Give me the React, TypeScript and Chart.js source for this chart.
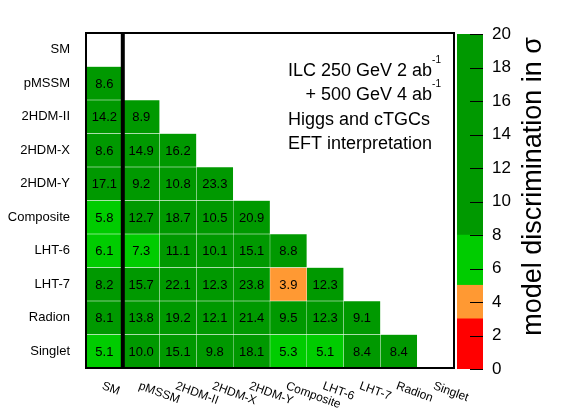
import React, { useEffect, useRef } from "react";
import { Chart, registerables } from "chart.js";

Chart.register(...registerables);

const models = [
  "SM",
  "pMSSM",
  "2HDM-II",
  "2HDM-X",
  "2HDM-Y",
  "Composite",
  "LHT-6",
  "LHT-7",
  "Radion",
  "Singlet",
];

// discrimination in sigma, row model vs. column model (lower triangle)
const rowSM: number[] = [];
const rowPMSSM = [8.6];
const row2HDMII = [14.2, 8.9];
const row2HDMX = [8.6, 14.9, 16.2];
const row2HDMY = [17.1, 9.2, 10.8, 23.3];
const rowComposite = [5.8, 12.7, 18.7, 10.5, 20.9];
const rowLHT6 = [6.1, 7.3, 11.1, 10.1, 15.1, 8.8];
const rowLHT7 = [8.2, 15.7, 22.1, 12.3, 23.8, 3.9, 12.3];
const rowRadion = [8.1, 13.8, 19.2, 12.1, 21.4, 9.5, 12.3, 9.1];
const rowSinglet = [5.1, 10.0, 15.1, 9.8, 18.1, 5.3, 5.1, 8.4, 8.4];

const rows = [
  rowSM,
  rowPMSSM,
  row2HDMII,
  row2HDMX,
  row2HDMY,
  rowComposite,
  rowLHT6,
  rowLHT7,
  rowRadion,
  rowSinglet,
];

// colour palette bands
const bandEdges = [0, 3, 5, 8, 20];
const bandColors = ["#ff0000", "#ff9933", "#00cc00", "#009900"];

const FONT = "'Liberation Sans', Arial, Helvetica, sans-serif";

const colorFor = (v: number) => {
  for (let i = 0; i < bandColors.length; i++) {
    if (v < bandEdges[i + 1]) return bandColors[i];
  }
  return bandColors[bandColors.length - 1];
};

const heatmapOverlay = {
  id: "heatmapOverlay",
  afterDatasetsDraw(chart: any) {
    const { ctx, chartArea } = chart;
    const xScale = chart.scales.x;
    ctx.save();

    // numbers in the cells
    ctx.fillStyle = "#000";
    ctx.font = `13px ${FONT}`;
    ctx.textAlign = "center";
    ctx.textBaseline = "middle";
    rows.forEach((vals, r) => {
      const meta = chart.getDatasetMeta(r);
      vals.forEach((v, c) => {
        const el = meta.data[c];
        if (!el) return;
        const { x, y, base } = el.getProps(["x", "y", "base"], true);
        ctx.fillText(v.toFixed(1), x, (y + base) / 2 + 1);
      });
    });

    // frame
    ctx.strokeStyle = "#000";
    ctx.lineWidth = 2;
    ctx.strokeRect(
      chartArea.left,
      chartArea.top,
      chartArea.right - chartArea.left,
      chartArea.bottom - chartArea.top
    );

    // thick line after the SM column
    const xDiv = (xScale.getPixelForValue(0) + xScale.getPixelForValue(1)) / 2;
    ctx.lineWidth = 4;
    ctx.beginPath();
    ctx.moveTo(xDiv, chartArea.top);
    ctx.lineTo(xDiv, chartArea.bottom);
    ctx.stroke();

    // slanted column labels
    ctx.font = `12px ${FONT}`;
    ctx.textAlign = "left";
    ctx.textBaseline = "top";
    models.forEach((m, c) => {
      ctx.save();
      ctx.translate(xScale.getPixelForValue(c), chartArea.bottom + 12);
      ctx.rotate((20 * Math.PI) / 180);
      ctx.fillText(m, 0, 0);
      ctx.restore();
    });

    // text block
    ctx.textBaseline = "alphabetic";
    const x0 = chartArea.right - 166;
    const b0 = chartArea.top + 43;
    const gap = 24.4;
    const big = `18px ${FONT}`;
    const small = `10px ${FONT}`;
    ctx.font = big;
    const l1 = "ILC 250 GeV 2 ab";
    const l2 = "+ 500 GeV 4 ab";
    const w1 = ctx.measureText(l1).width;
    const w2 = ctx.measureText(l2).width;
    ctx.font = small;
    const ws = ctx.measureText("-1").width;
    const end = x0 + w1 + ws;

    ctx.font = big;
    ctx.fillText(l1, x0, b0);
    ctx.fillText(l2, end - ws - w2, b0 + gap);
    ctx.fillText("Higgs and cTGCs", x0, b0 + 2 * gap);
    ctx.fillText("EFT interpretation", x0, b0 + 3 * gap);
    ctx.font = small;
    ctx.fillText("-1", x0 + w1, b0 - 13);
    ctx.fillText("-1", end - ws, b0 + gap - 13);

    ctx.restore();
  },
};

const colorbarOverlay = {
  id: "colorbarOverlay",
  afterDatasetsDraw(chart: any) {
    const { ctx, chartArea } = chart;
    const yScale = chart.scales.y;
    ctx.save();
    ctx.strokeStyle = "#000";
    ctx.lineWidth = 1;
    yScale.ticks.forEach((t: any) => {
      const py = Math.round(yScale.getPixelForValue(t.value)) + 0.5;
      ctx.beginPath();
      ctx.moveTo(chartArea.right - 13, py);
      ctx.lineTo(chartArea.right, py);
      ctx.stroke();
    });

    ctx.fillStyle = "#000";
    ctx.font = `27px ${FONT}`;
    ctx.textAlign = "right";
    ctx.textBaseline = "alphabetic";
    ctx.translate(chartArea.right + 58, chartArea.top);
    ctx.rotate(-Math.PI / 2);
    ctx.fillText("model discrimination in σ", -3, 0);
    ctx.restore();
  },
};

const App: React.FC = () => {
  const mapRef = useRef<HTMLCanvasElement>(null);
  const barRef = useRef<HTMLCanvasElement>(null);

  useEffect(() => {
    if (!mapRef.current || !barRef.current) return;

    const mapChart = new Chart(mapRef.current.getContext("2d")!, {
      type: "bar",
      data: {
        labels: models,
        datasets: rows.map((vals, r) => ({
          label: models[r],
          data: models.map((_, c) => (c < vals.length ? [r, r + 1] : null)) as any,
          backgroundColor: models.map((_, c) =>
            c < vals.length ? colorFor(vals[c]) : "rgba(0,0,0,0)"
          ),
          borderColor: "rgba(255,255,255,0.07)",
          borderWidth: 0.5,
          borderSkipped: false,
          categoryPercentage: 1,
          barPercentage: 1,
        })),
      },
      options: {
        animation: false,
        responsive: false,
        layout: { padding: { top: 33, right: 114, bottom: 42, left: 0 } },
        plugins: { legend: { display: false }, tooltip: { enabled: false } },
        scales: {
          x: { display: false, stacked: true },
          y: {
            min: 0,
            max: 10,
            reverse: true,
            grid: { display: false, drawTicks: false },
            border: { display: false },
            afterFit: (s: any) => {
              s.width = 86;
            },
            afterBuildTicks: (s: any) => {
              s.ticks = models.map((_, i) => ({ value: i + 0.5 }));
            },
            ticks: {
              padding: 16,
              color: "#000",
              font: { family: FONT, size: 13 },
              callback: (v: any) => models[Math.floor(Number(v))],
            },
          },
        },
      },
      plugins: [heatmapOverlay],
    });

    const barChart = new Chart(barRef.current.getContext("2d")!, {
      type: "bar",
      data: {
        labels: [""],
        datasets: bandColors.map((col, i) => ({
          label: `${bandEdges[i]}-${bandEdges[i + 1]}`,
          data: [[bandEdges[i], bandEdges[i + 1]]] as any,
          backgroundColor: col,
          borderWidth: 0,
          categoryPercentage: 1,
          barPercentage: 1,
        })),
      },
      options: {
        animation: false,
        responsive: false,
        layout: { padding: { top: 34, right: 0, bottom: 41, left: 457 } },
        plugins: { legend: { display: false }, tooltip: { enabled: false } },
        scales: {
          x: { display: false, stacked: true },
          y: {
            position: "right",
            min: 0,
            max: 20,
            grid: { display: false, drawTicks: false },
            border: { display: false },
            afterFit: (s: any) => {
              s.width = 85;
            },
            ticks: {
              stepSize: 2,
              padding: 9,
              color: "#000",
              font: { family: FONT, size: 17 },
            },
          },
        },
      },
      plugins: [colorbarOverlay],
    });

    return () => {
      mapChart.destroy();
      barChart.destroy();
    };
  }, []);

  const canvasStyle: React.CSSProperties = {
    position: "absolute",
    left: 0,
    top: 0,
    width: 568,
    height: 410,
  };

  return (
    <div
      style={{
        position: "absolute",
        left: 0,
        top: 0,
        width: 568,
        height: 410,
        background: "#fff",
      }}
    >
      <canvas ref={mapRef} width={568} height={410} style={canvasStyle} />
      <canvas ref={barRef} width={568} height={410} style={canvasStyle} />
    </div>
  );
};

export default App;
